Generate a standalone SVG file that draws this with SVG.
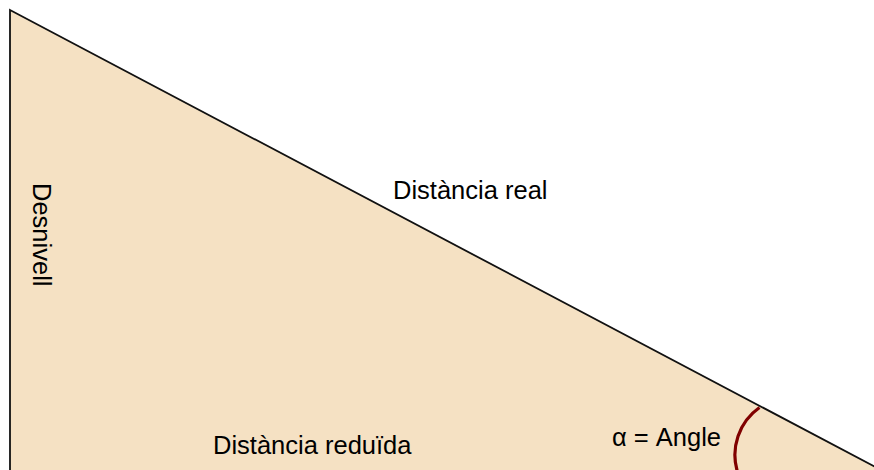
<svg xmlns="http://www.w3.org/2000/svg" width="874" height="470" viewBox="0 0 874 470">
  <style>
    .lbl { font-family: "Liberation Sans", Arial, sans-serif; font-size: 25.5px; fill: #000; }
  </style>
  <rect x="0" y="0" width="874" height="470" fill="#ffffff"/>
  <g id="triangle">
    <polygon points="10,10 900,480 10,480" fill="#f5e1c3" stroke="#111" stroke-width="1.8" stroke-linejoin="miter"/>
  </g>
  <g id="angle-arc">
    <path d="M 759.5 407.5 A 58 58 0 0 0 737.5 472" fill="none" stroke="#800000" stroke-width="3.2"/>
  </g>
  <g id="labels">
    <text class="lbl" x="393" y="199">Distància real</text>
    <text class="lbl" x="213" y="454">Distància reduïda</text>
    <text class="lbl" x="612" y="446">α = Angle</text>
    <text class="lbl" transform="translate(33,183) rotate(90)">Desnivell</text>
  </g>
</svg>
